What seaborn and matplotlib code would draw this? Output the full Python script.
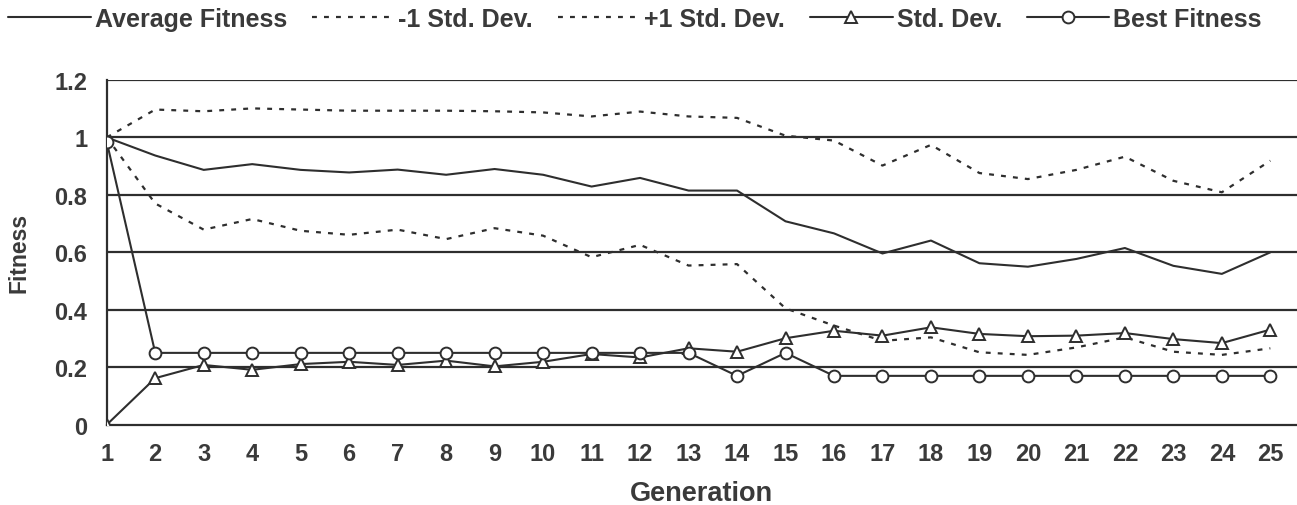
import pandas as pd
import matplotlib
matplotlib.use("Agg")
import matplotlib.pyplot as plt
import seaborn as sns

generation = list(range(1, 26))
avg_fitness = [1.0, 0.937, 0.887, 0.907, 0.887, 0.878, 0.888, 0.870, 0.890, 0.870,
               0.829, 0.859, 0.815, 0.815, 0.708, 0.666, 0.596, 0.641, 0.562, 0.550,
               0.577, 0.615, 0.553, 0.525, 0.600]
minus_std = [1.0, 0.770, 0.679, 0.716, 0.675, 0.661, 0.679, 0.646, 0.684, 0.658,
             0.583, 0.626, 0.554, 0.559, 0.405, 0.345, 0.292, 0.304, 0.252, 0.243,
             0.269, 0.304, 0.254, 0.243, 0.266]
plus_std = [1.0, 1.097, 1.091, 1.101, 1.097, 1.093, 1.093, 1.093, 1.091, 1.087,
            1.073, 1.090, 1.073, 1.068, 1.006, 0.989, 0.902, 0.974, 0.876, 0.855,
            0.887, 0.933, 0.849, 0.809, 0.919]
std_dev = [0.0, 0.162, 0.208, 0.191, 0.211, 0.219, 0.208, 0.223, 0.203, 0.219,
           0.246, 0.234, 0.266, 0.254, 0.301, 0.327, 0.310, 0.339, 0.316, 0.308,
           0.310, 0.319, 0.298, 0.284, 0.331]
best_fitness = [0.985, 0.25, 0.25, 0.25, 0.25, 0.25, 0.25, 0.25, 0.25, 0.25,
                0.25, 0.25, 0.25, 0.17, 0.25, 0.17, 0.17, 0.17, 0.17, 0.17,
                0.17, 0.17, 0.17, 0.17, 0.17]

sns.set_style("white")
plt.rcParams["font.family"] = ["Liberation Sans", "DejaVu Sans"]
plt.rcParams["font.weight"] = "bold"

ink = "#2e2e2e"
txt = "#3a3a3a"

df = pd.DataFrame({"Generation": generation, "avg": avg_fitness, "minus": minus_std,
                   "plus": plus_std, "std": std_dev, "best": best_fitness})

fig = plt.figure(figsize=(12.97, 5.06), dpi=100)
ax = fig.add_axes([0.0823, 0.1587, 0.9177, 0.6813])

# horizontal gridlines like the original
for v in [0.2, 0.4, 0.6, 0.8, 1.0, 1.2]:
    ax.axhline(v, color=ink, lw=1.6, zorder=1)

sns.lineplot(data=df, x="Generation", y="avg", ax=ax, color=ink, lw=1.5,
             label="Average Fitness", zorder=3)
sns.lineplot(data=df, x="Generation", y="minus", ax=ax, color=ink, lw=1.6,
             dashes=(2.2, 3.2), label="-1 Std. Dev.", zorder=3)
sns.lineplot(data=df, x="Generation", y="plus", ax=ax, color=ink, lw=1.6,
             dashes=(2.2, 3.2), label="+1 Std. Dev.", zorder=3)
sns.lineplot(data=df, x="Generation", y="std", ax=ax, color=ink, lw=1.5,
             marker="^", markersize=9, markerfacecolor="white", markeredgecolor=ink,
             markeredgewidth=1.4, label="Std. Dev.", zorder=4)
sns.lineplot(data=df, x="Generation", y="best", ax=ax, color=ink, lw=1.5,
             marker="o", markersize=8.5, markerfacecolor="white", markeredgecolor=ink,
             markeredgewidth=1.4, label="Best Fitness", zorder=5)

ax.set_xlim(1, 25.55)
ax.set_ylim(0, 1.2)
ax.set_xticks(generation)
ax.set_yticks([0, 0.2, 0.4, 0.6, 0.8, 1.0, 1.2])
ax.set_yticklabels(["0", "0.2", "0.4", "0.6", "0.8", "1", "1.2"])
ax.tick_params(axis="both", direction="out", length=6, width=1.5, color=ink,
               labelsize=17, labelcolor=txt)
ax.tick_params(axis="y", pad=8)
ax.tick_params(axis="x", pad=6.5)
for lab in ax.get_xticklabels() + ax.get_yticklabels():
    lab.set_fontweight("bold")

for s in ["top", "right"]:
    ax.spines[s].set_visible(False)
for s in ["left", "bottom"]:
    ax.spines[s].set_color(ink)
    ax.spines[s].set_linewidth(1.6)

ax.set_xlabel("Generation", fontsize=19.5, fontweight="bold", color=txt, labelpad=11)
ax.set_ylabel("Fitness", fontsize=16.5, fontweight="bold", color=txt, labelpad=17)

handles, labels = ax.get_legend_handles_labels()
ax.get_legend().remove()
fig.legend(handles, labels, loc="upper left", bbox_to_anchor=(0.0062, 0.984), ncol=5,
           frameon=False, borderpad=0, borderaxespad=0, handlelength=3.3,
           columnspacing=1.0, handletextpad=0.16,
           prop={"size": 18, "weight": "bold"}, labelcolor=txt)

fig.savefig("out.png", dpi=100)
